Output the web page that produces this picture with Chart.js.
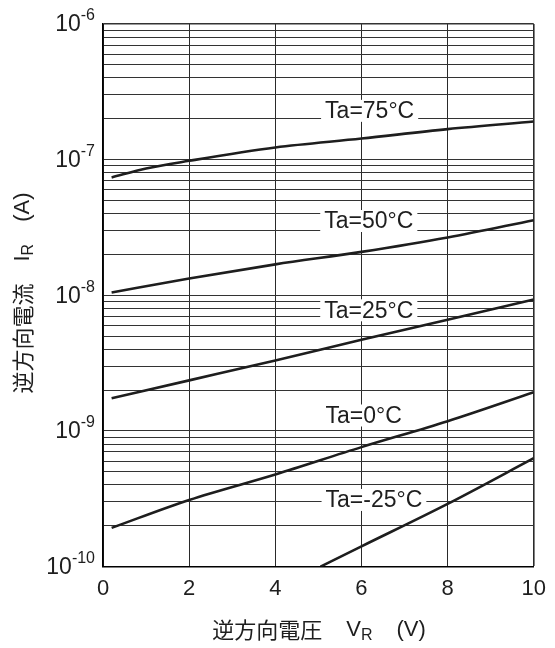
<!DOCTYPE html>
<html>
<head>
<meta charset="utf-8">
<script src="https://cdn.jsdelivr.net/npm/chart.js@4.4.1/dist/chart.umd.min.js"></script>
<style>
  html, body { margin: 0; padding: 0; background: #fff; }
</style>
</head>
<body>
<canvas id="irChart" width="555" height="648"></canvas>
<script>
// reverse current vs reverse voltage
const ta75X = [0.2, 1, 2, 4, 6, 8, 10];
const ta75Y = [7.4e-8, 8.6e-8, 9.8e-8, 1.23e-7, 1.43e-7, 1.68e-7, 1.91e-7];
const ta50X = [0.2, 2, 4, 6, 8, 10];
const ta50Y = [1.05e-8, 1.33e-8, 1.69e-8, 2.09e-8, 2.67e-8, 3.58e-8];
const ta25X = [0.2, 2, 4, 6, 8, 10];
const ta25Y = [1.74e-9, 2.36e-9, 3.31e-9, 4.7e-9, 6.6e-9, 9.3e-9];
const ta0X = [0.2, 2, 4, 6, 8, 10];
const ta0Y = [1.93e-10, 3.1e-10, 4.78e-10, 7.6e-10, 1.18e-9, 1.93e-9];
const taM25X = [5.05, 6, 8, 10];
const taM25Y = [1.0e-10, 1.41e-10, 2.9e-10, 6.3e-10];

const curveLabels = ['Ta=75°C', 'Ta=50°C', 'Ta=25°C', 'Ta=0°C', 'Ta=-25°C'];
const labelX = [6.19, 6.17, 6.17, 6.05, 6.29];
const labelY = [2.29e-7, 3.53e-8, 7.75e-9, 1.3e-9, 3.1e-10];

const yDecades = [1e-10, 1e-9, 1e-8, 1e-7, 1e-6];
const yExponents = ['-10', '-9', '-8', '-7', '-6'];
const minorSteps = [2, 3, 4, 5, 6, 7, 8, 9];
const xTicks = [0, 2, 4, 6, 8, 10];

const latin = '"Liberation Sans", Arial, sans-serif';
const cjk = '"Noto Sans CJK JP", sans-serif';
const ink = '#1e1e1e';

const yTickValues = [];
yDecades.forEach((d, i) => {
  yTickValues.push(d);
  if (i < yDecades.length - 1) minorSteps.forEach(m => yTickValues.push(m * d));
});

const toPoints = (xs, ys) => xs.map((x, i) => ({ x: x, y: ys[i] }));

function curve(xs, ys) {
  return {
    data: toPoints(xs, ys),
    borderColor: ink,
    borderWidth: 2.6,
    pointRadius: 0,
    cubicInterpolationMode: 'monotone',
    fill: false,
  };
}

// draws a run of text pieces (with subscripts) centred on (cx, cy)
function drawRun(ctx, cx, cy, parts) {
  let total = 0;
  parts.forEach(p => {
    if (p.gap) { total += p.gap; return; }
    ctx.font = p.font;
    p.w = ctx.measureText(p.t).width;
    total += p.w;
  });
  let x = cx - total / 2;
  ctx.textAlign = 'left';
  ctx.textBaseline = 'middle';
  parts.forEach(p => {
    if (p.gap) { x += p.gap; return; }
    ctx.font = p.font;
    ctx.fillText(p.t, x, cy + (p.dy || 0));
    x += p.w;
  });
}

const decorations = {
  id: 'decorations',
  afterDraw(chart) {
    const ctx = chart.ctx;
    const xs = chart.scales.x;
    const ys = chart.scales.y;
    ctx.save();
    ctx.fillStyle = ink;

    // curve names on white boxes
    curveLabels.forEach((txt, i) => {
      const px = xs.getPixelForValue(labelX[i]);
      const py = ys.getPixelForValue(labelY[i]);
      ctx.font = '23px ' + latin;
      const w = ctx.measureText(txt).width;
      ctx.fillStyle = '#fff';
      ctx.fillRect(px - w / 2 - 4, py - 11, w + 8, 22);
      ctx.fillStyle = ink;
      ctx.textAlign = 'center';
      ctx.textBaseline = 'middle';
      ctx.fillText(txt, px, py + 1);
    });

    // y tick labels 10^n
    const right = xs.left - 8;
    yDecades.forEach((d, i) => {
      const py = ys.getPixelForValue(d);
      ctx.textBaseline = 'middle';
      ctx.textAlign = 'right';
      ctx.font = '16px ' + latin;
      const ew = ctx.measureText(yExponents[i]).width;
      ctx.fillText(yExponents[i], right, py - 8);
      ctx.font = '23px ' + latin;
      ctx.fillText('10', right - ew, py + 1);
    });

    // x axis title
    drawRun(ctx, 319, 630, [
      { t: '逆方向電圧', font: '22px ' + cjk },
      { gap: 24 },
      { t: 'V', font: '22px ' + latin },
      { t: 'R', font: '16px ' + latin, dy: 6 },
      { gap: 24 },
      { t: '(V)', font: '22px ' + latin },
    ]);

    // y axis title, rotated
    ctx.translate(23, 293);
    ctx.rotate(-Math.PI / 2);
    drawRun(ctx, 0, 0, [
      { t: '逆方向電流', font: '22px ' + cjk },
      { gap: 22 },
      { t: 'I', font: '22px ' + latin },
      { t: 'R', font: '16px ' + latin, dy: 6 },
      { gap: 22 },
      { t: '(A)', font: '22px ' + latin },
    ]);
    ctx.restore();
  }
};

new Chart(document.getElementById('irChart'), {
  type: 'line',
  data: {
    datasets: [
      curve(ta75X, ta75Y),
      curve(ta50X, ta50Y),
      curve(ta25X, ta25Y),
      curve(ta0X, ta0Y),
      curve(taM25X, taM25Y),
    ],
  },
  options: {
    responsive: false,
    animation: false,
    layout: {
      padding: { left: 103, top: 24, right: 21, bottom: 37 },
    },
    plugins: {
      legend: { display: false },
      tooltip: { enabled: false },
    },
    scales: {
      x: {
        type: 'linear',
        min: 0,
        max: 10,
        afterBuildTicks: scale => { scale.ticks = xTicks.map(v => ({ value: v })); },
        ticks: {
          color: ink,
          padding: 9,
          font: { family: latin, size: 22 },
        },
        grid: {
          drawTicks: false,
          color: '#2a2a2a',
          lineWidth: c => (c.index === xTicks.length - 1 ? 1.6 : 1),
        },
        border: { color: '#000', width: 1.6 },
      },
      y: {
        type: 'logarithmic',
        min: 1e-10,
        max: 1e-6,
        afterBuildTicks: scale => { scale.ticks = yTickValues.map(v => ({ value: v })); },
        ticks: { display: false },
        grid: {
          drawTicks: false,
          color: '#333',
          lineWidth: c => (c.index === yTickValues.length - 1 ? 1.6 : 1),
        },
        border: { color: '#000', width: 1.6 },
      },
    },
  },
  plugins: [decorations],
});
</script>
</body>
</html>
